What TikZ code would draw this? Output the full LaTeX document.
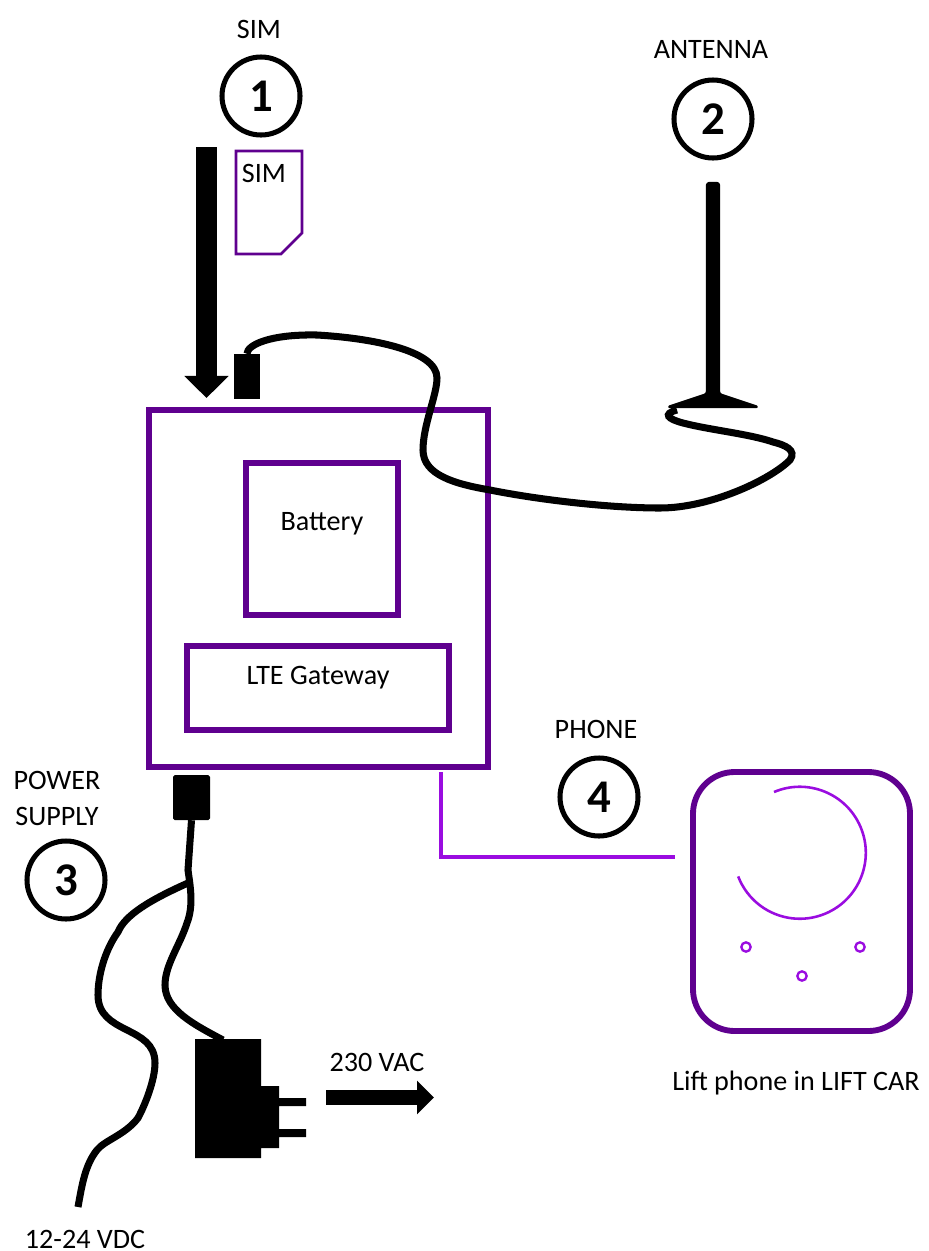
\documentclass[tikz,border=0pt]{standalone}
\usepackage{fontspec}
\setmainfont{Carlito}
\usepackage{xcolor}
\usepackage{tikz}
\usetikzlibrary{arrows.meta,positioning}
\definecolor{gwpurple}{HTML}{5F008F}
\definecolor{linepurple}{HTML}{9A0CE0}

\begin{document}
\begin{tikzpicture}[x=0.03cm,y=-0.03cm,font=\fontsize{24}{30.7}\selectfont,
    boxline/.style={draw=gwpurple,line width=4.4pt,inner sep=0pt},
    numcircle/.style={circle,draw=black,line width=4.3pt,inner sep=0pt,minimum size=2.34cm,
      font=\fontsize{40}{40}\selectfont\bfseries},
    cable/.style={draw=black,line width=6pt},
    dotring/.style={circle,draw=linepurple,line width=2pt,inner sep=0pt,minimum size=0.28cm},
    plugbox/.style={fill=black,inner sep=0pt}]
  \useasboundingbox (0,0) rectangle (929,1251);

  % main box and what is in it
  \node[boxline,minimum width=10.17cm,minimum height=10.71cm] (gateway) at (318.5,588.5) {};
  \node[boxline,minimum width=4.56cm,minimum height=4.56cm] (battery) at (322,539) {};
  \node (batterytext) at (322,524) {Battery};
  \node[boxline,minimum width=7.86cm,minimum height=2.52cm] (lte) at (318,688) {};
  \node (ltetext) at (318,678) {LTE Gateway};

  % numbers
  \node[numcircle] (one) at (261,96) {1};
  \node[numcircle] (two) at (713,119) {2};
  \node[numcircle] (three) at (66,880) {3};
  \node[numcircle] (four) at (599,797) {4};
  \node (simlabel) at (259,29) {SIM};
  \node (antlabel) at (711,49) {ANTENNA};
  \node[align=center] (powerlabel) at (57,798) {POWER\\SUPPLY};
  \node (phonelabel) at (596,729) {PHONE};

  % sim card
  \draw[draw=gwpurple,line width=2.2pt] (236,151) -- (302,151) -- (302,233) -- (281,254) -- (236,254) -- cycle;
  \node (simtext) at (264,173) {SIM};
  \coordinate (simstart) at (206.5,147);
  \coordinate (simtip) at (206.5,398);
  \draw[line width=17.9pt,-{Triangle[length=18.8pt,width=36.7pt]}] (simstart) -- (simtip);

  % antenna
  \node[plugbox,minimum width=0.78cm,minimum height=1.35cm] (antplug) at (247,376.5) {};
  \coordinate (antfoot) at (677,410);
  \draw[cable] (antplug.north) .. controls (247,345) and (270,334) .. (317,335)
    .. controls (370,338) and (437,350) .. (437,378)
    .. controls (437,395) and (423,425) .. (423,450)
    .. controls (423,475) and (455,484) .. (490,490)
    .. controls (540,500) and (610,508) .. (660,508)
    .. controls (710,508) and (770,480) .. (790,460)
    .. controls (797,450) and (785,445) .. (773,442)
    .. controls (750,434) and (710,430) .. (683,423)
    .. controls (668,419) and (662,414) .. (antfoot);
  \fill[line join=round,draw=black,line width=2pt,rounded corners=2pt] (707,183) -- (719,183) -- (719,394) -- (758,407) -- (668,407) -- (707,394) -- cycle;

  % power side
  \node[plugbox,rounded corners=1.5pt,minimum width=1.11cm,minimum height=1.35cm] (powerplug) at (191.5,797.5) {};
  \coordinate (adaptertop) at (223,1040);
  \coordinate (dcsplit) at (188,883);
  \coordinate (dcend) at (78,1207);
  \draw[cable] (powerplug.south) -- (188,870) .. controls (190,885) and (194,905) .. (187,923)
    .. controls (180,945) and (165,965) .. (165,985)
    .. controls (165,1010) and (195,1025) .. (adaptertop);
  \draw[cable] (dcsplit) .. controls (150,900) and (125,915) .. (118,932)
    .. controls (105,950) and (98,975) .. (98,995)
    .. controls (98,1035) and (155,1025) .. (155,1063)
    .. controls (155,1080) and (145,1105) .. (138,1118)
    .. controls (125,1135) and (105,1140) .. (97,1150)
    .. controls (85,1165) and (82,1185) .. (dcend);
  \fill (195,1039) -- (261,1039) -- (261,1086) -- (279,1086) -- (279,1098) -- (306,1098) -- (306,1106) -- (279,1106)
    -- (279,1129) -- (306,1129) -- (306,1137) -- (279,1137) -- (279,1148) -- (261,1148) -- (261,1158) -- (195,1158) -- cycle;
  \coordinate (vacstart) at (326,1097.5);
  \coordinate (vactip) at (434,1097.5);
  \draw[line width=13.6pt,-{Triangle[length=14.5pt,width=28pt]}] (vacstart) -- (vactip);
  \node (vaclabel) at (377,1062) {230 VAC};
  \node (dclabel) at (85,1239) {12-24 VDC};

  % lift phone
  \node[draw=gwpurple,line width=5pt,rounded corners=1.25cm,inner sep=0pt,
        minimum width=6.51cm,minimum height=7.77cm] (phone) at (801.5,901.5) {};
  \draw[draw=linepurple,line width=2.2pt] (774,792) arc[start angle=113,end angle=-159,radius=1.98cm];
  \node[dotring] (dotleft) at (746,947) {};
  \node[dotring] (dotright) at (860,947) {};
  \node[dotring] (dotmid) at (802,976) {};
  \coordinate (wiretop) at (441,772);
  \coordinate (wireend) at (675,857);
  \draw[draw=linepurple,line width=3.2pt] (wiretop) |- (wireend);
  \node (phonetext) at (796,1083) {Lift phone in LIFT CAR};
\end{tikzpicture}
\end{document}
